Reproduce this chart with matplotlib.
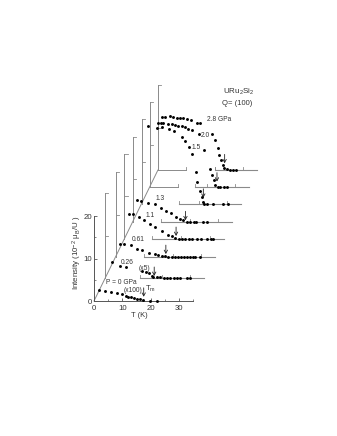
import matplotlib
matplotlib.use('Agg')
import matplotlib.pyplot as plt

plt.rcParams['font.family'] = ['Liberation Sans', 'DejaVu Sans']
plt.rcParams['mathtext.default'] = 'regular'

W, H = 337, 436
X0, Y0 = 94.0, 301.0      # pixel position of the origin
SX, SY = 2.84, 4.25       # pixels per K, pixels per intensity unit

pressures = ['0', '0.26', '0.61', '1.1', '1.3', '1.5', '2.0', '2.8']

T_p0 = [1.8, 3.9, 5.9, 8, 10, 11.3, 12.1, 13, 14.1, 15, 16.2, 17.4, 19.8, 22.1]
I_p0 = [2.5, 2.35, 2.2, 1.9, 1.6, 1.25, .95, .85, .7, .45, .4, .3, .1, 0]

T_p026 = [2.5, 5.3, 7.4, 12.9, 14.5, 15.3, 16.5, 17, 18.2, 19.2, 20.6, 21.8, 22.9, 24.1, 25.3, 26.5, 29, 29.8]
I_p026 = [3.7, 2.9, 2.5, 1.65, 1.4, 1.2, .5, .15, .15, .15, 0, 0, 0, 0, 0, 0, 0, 0]

T_p061 = [1.6, 2.8, 5.2, 7.5, 9.3, 11.6, 13.8, 14.9, 16.1, 17.3, 18.5, 19.6, 20.8, 22, 23, 24, 25, 26, 27, 28, 29.6]
I_p061 = [3.1, 3.05, 2.75, 2, 1.75, 1.0, .6, .4, .25, .15, 0, 0, 0, 0, 0, 0, 0, 0, 0, 0, 0]

T_p11 = [1.5, 3.2, 5.3, 6.9, 9, 10.8, 13.2, 15.2, 16.7, 17.9, 19.1, 20.3, 21.5, 22.6, 23.8, 25.5, 27, 29, 30.5, 31.2]
I_p11 = [5.9, 5.8, 5.25, 4.45, 3.55, 2.75, 1.9, .95, .7, .15, .1, 0, 0, 0, 0, 0, 0, 0, 0, 0]

T_p13 = [1.5, 2.7, 5.4, 7.8, 9.8, 11.6, 13.4, 15.2, 16.6, 17.8, 19, 20.2, 21.4, 22.3, 24.8, 26.2]
I_p13 = [5.1, 5.0, 4.55, 4.15, 3.3, 2.6, 2, 1.2, .65, .4, .1, 0, 0, 0, 0, 0]

T_p15 = [2.2, 5.2, 7.2, 9.4, 11.3, 14.2, 15.2, 16.4, 17.5, 18.9, 19.5, 20.5, 21, 21.4, 21.9, 23, 24.9, 28.5, 30.4]
I_p15 = [18.4, 18, 18.1, 17.6, 17.2, 15.8, 14.8, 13.5, 11.9, 7.45, 5.25, 3.15, 1.6, .55, 0, 0, 0, 0, 0]

T_p20 = [2.9, 3.8, 4.7, 6.5, 7.6, 8.8, 10, 11.2, 12.4, 13.5, 14.7, 17.1, 19.2, 21.2, 21.8, 22.4, 23, 23.8, 24.7, 25.9, 27]
I_p20 = [15.0, 15.2, 15.2, 14.9, 14.75, 14.6, 14.4, 14.3, 14.15, 13.75, 13.35, 12.4, 8.7, 4.25, 2.85, 1.65, .5, .1, 0, 0, 0]

T_p28 = [1.5, 2.5, 4.2, 5.4, 6.6, 7.8, 8.9, 10.1, 11.6, 13.6, 14.8, 18.9, 20.1, 21, 21.6, 22.1, 22.8, 23.4, 24.2, 25.4, 26.5, 27.5]
I_p28 = [12.4, 12.55, 12.7, 12.4, 12.3, 12.25, 12.15, 12.1, 11.9, 11.2, 11, 8.6, 7.05, 5.1, 3.55, 2.35, 1.2, .4, .15, 0, 0, 0]

T_m = [17.5, 17.3, 17.6, 18.2, 18.5, 21.6, 23.6, 23.5]
arrow_tip = [1.0, .5, .7, .7, .4, 1.5, 1.3, 1.6]

series_T = [T_p0, T_p026, T_p061, T_p11, T_p13, T_p15, T_p20, T_p28]
series_I = [I_p0, I_p026, I_p061, I_p11, I_p13, I_p15, I_p20, I_p28]

# layout of the stacked planes: shift of each plane's origin, start of its base line
plane_dT = [0, 3.9, 7.7, 10.7, 13.7, 16.9, 19.7, 22.5]
plane_dI = [0, 5.4, 10.35, 14.6, 18.6, 22.8, 26.8, 30.8]
base_start = [0, 12.3, 10, 9.7, 10, 13, 16, 20]

GRAY = '#8a8a8a'
TXT = '#333333'

fig = plt.figure(figsize=(W / 100, H / 100), dpi=100)
ax = fig.add_axes([0, 0, 1, 1])
ax.set_xlim(-X0 / SX, (W - X0) / SX)
ax.set_ylim(-(H - Y0) / SY, Y0 / SY)
ax.patch.set_visible(False)

for s in ('top', 'right'):
    ax.spines[s].set_visible(False)
for s in ('left', 'bottom'):
    ax.spines[s].set_position('zero')
    ax.spines[s].set_linewidth(0.7)
    ax.spines[s].set_color('#555555')
ax.spines['left'].set_bounds(0, 20)
ax.spines['bottom'].set_bounds(0, 35)
ax.set_xticks([0, 10, 20, 30])
ax.set_yticks([0, 10, 20])
ax.set_xticks([5, 15, 25, 35], minor=True)
ax.set_yticks([5, 15], minor=True)
ax.tick_params(axis='x', direction='in', length=2.5, width=0.6, labelsize=5.6,
               color='#555555', labelcolor=TXT, pad=3)
ax.tick_params(axis='y', direction='in', length=2.5, width=0.6, labelsize=5.6,
               color='#555555', labelcolor=TXT, pad=1.5)
ax.tick_params(which='minor', direction='in', length=1.3, width=0.5, color='#555555')


def d(px, py):
    return (px - X0) / SX, (Y0 - py) / SY


# oblique pressure axis
ax.plot([0, plane_dT[-1]], [0, plane_dI[-1]], color=GRAY, lw=0.7, zorder=1)

for i in range(1, len(pressures)):
    dt, di = plane_dT[i], plane_dI[i]
    ax.plot([dt, dt], [di, di + 20], color=GRAY, lw=0.7, zorder=1)
    for v in (10, 20):
        ax.plot([dt, dt + 1.1], [di + v, di + v], color=GRAY, lw=0.6, zorder=1)
    ax.plot([dt + base_start[i], dt + 35], [di, di], color=GRAY, lw=0.8, zorder=1)
    ax.plot([dt + base_start[i]] * 2, [di, di + 0.7], color=GRAY, lw=0.6, zorder=1)
    for v in (20, 30):
        ax.plot([dt + v, dt + v], [di, di + 0.7], color=GRAY, lw=0.6, zorder=1)
    if i >= 6:
        ax.plot([dt, dt + 10], [di, di], color=GRAY, lw=0.7, zorder=1)
        ax.plot([dt + 10, dt + 10], [di, di + 0.7], color=GRAY, lw=0.6, zorder=1)

for i in range(len(pressures)):
    dt, di = plane_dT[i], plane_dI[i]
    ax.plot([t + dt for t in series_T[i]], [v + di for v in series_I[i]],
            ls='none', marker='o', ms=2.1, mfc='black', mec='black', mew=0, zorder=3)
    ax.annotate('', xy=(T_m[i] + dt, arrow_tip[i] + di),
                xytext=(T_m[i] + dt, arrow_tip[i] + di + 2.1),
                arrowprops=dict(arrowstyle='->,head_width=0.12,head_length=0.22',
                                lw=0.6, color='#222222', shrinkA=0, shrinkB=0), zorder=4)

labels = [
    ('P = 0 GPa', 106, 282), ('(x100)', 124, 290), ('0.26', 121, 262), ('(x5)', 139, 268),
    ('0.61', 132, 239), ('1.1', 146, 215), ('1.3', 156, 198), ('1.5', 192, 147),
    ('2.0', 201, 135), ('2.8 GPa', 207, 119),
]
for txt, px, py in labels:
    x, y = d(px, py)
    ax.text(x, y, txt, fontsize=4.8, color=TXT, ha='left', va='center')

x, y = d(145, 289)
ax.text(x, y, 'T$_m$', fontsize=5.6, color=TXT, ha='left', va='center')
x, y = d(223, 92)
ax.text(x, y, 'URu$_2$Si$_2$', fontsize=5.8, color=TXT, ha='left', va='center')
x, y = d(222, 103)
ax.text(x, y, 'Q= (100)', fontsize=5.5, color=TXT, ha='left', va='center')
x, y = d(77, 253)
ax.text(x, y, 'Intensity (10$^{-2}$ $\\mu_B$/U )', fontsize=5.7, color=TXT, rotation=90,
        ha='center', va='center')
x, y = d(139, 315)
ax.text(x, y, 'T (K)', fontsize=5.4, color=TXT, ha='center', va='center')

fig.savefig('out.png', dpi=100)
